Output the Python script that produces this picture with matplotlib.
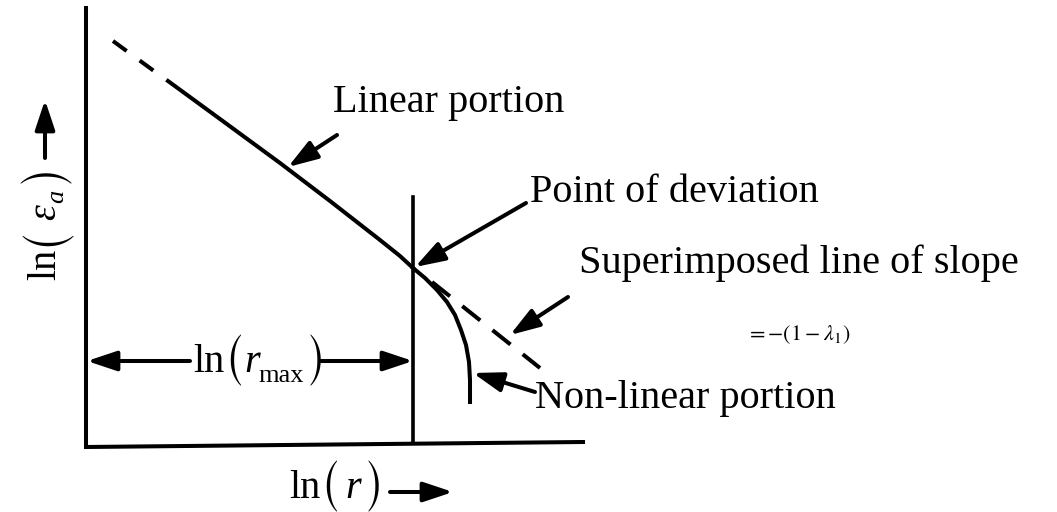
import numpy as np
import matplotlib
matplotlib.use('Agg')
import matplotlib.pyplot as plt

plt.rcParams['font.family'] = ['Liberation Serif', 'DejaVu Serif']
plt.rcParams['mathtext.fontset'] = 'stix'

# schematic coordinates (pixel units, y grows downward)
frame_x = [86, 86, 583]
frame_y = [8, 447, 442]

rmax_x = 413
rmax_line_y = [197, 442]

# measured curve: dashed extrapolation at the top, then the linear part
top_dash_x = [113, 154]
top_dash_y = [41, 71]
linear_x = [168, 220, 280, 330, 380, 400, 413]
linear_y = [81, 119, 163, 201, 240, 256, 268]

# bending part after the point of deviation
nonlinear_x = [413, 425, 437, 447, 455, 461, 466, 469, 470, 470]
nonlinear_y = [268, 278, 290, 302, 315, 330, 345, 362, 380, 402]

# superimposed straight line of slope -(1 - lambda_1)
slope_x = [432, 540]
slope_y = [282, 368]

# (label, text x, text baseline y, arrow tail, arrow tip)
callouts = [
    ('Linear portion', 333, 112, (337, 135), (288, 167)),
    ('Point of deviation', 530, 202, (526, 203), (415, 267)),
    ('Superimposed line of slope', 579, 273, (568, 297), (510, 335)),
    ('Non-linear portion', 535, 408, (535, 392), (473, 373)),
]

fig = plt.figure(figsize=(10.57, 5.12), dpi=100)
ax = fig.add_axes([0, 0, 1, 1])
ax.set_xlim(0, 1057)
ax.set_ylim(512, 0)
ax.axis('off')
renderer = fig.canvas.get_renderer()

fs = 29      # body text
big = 30     # tall thin brackets (STIX size-one glyphs)
small = 19   # subscripts
pdrop = 7    # brackets sit a little below the text baseline


def ln_label(x, y, pieces, rotation=0):
    """Write ln(...) piece by piece so the brackets can be taller than the text.
    pieces: (text, fontsize, kind, gap before, baseline drop)"""
    pos = 0.0
    for text, size, kind, gap, drop in pieces:
        pos += gap
        if rotation == 90:
            px, py = x + drop, y - pos
        else:
            px, py = x + pos, y + drop
        kw = dict(fontsize=size, rotation=rotation, rotation_mode='anchor',
                  ha='left', va='baseline')
        if kind == 'paren':
            kw['family'] = 'STIXSizeOneSym'
        elif kind == 'italic':
            kw['style'] = 'italic'
        t = ax.text(px, py, text, **kw)
        bb = t.get_window_extent(renderer)
        pos += bb.height if rotation == 90 else bb.width


lw = 2.9
ax.plot(frame_x, frame_y, color='black', lw=lw, solid_joinstyle='miter')
ax.plot([rmax_x, rmax_x], rmax_line_y, color='black', lw=lw * 0.9)

ax.plot(top_dash_x, top_dash_y, color='black', lw=lw, linestyle=(0, (4.2, 4.0)))
ax.plot(linear_x, linear_y, color='black', lw=lw)
ax.plot(nonlinear_x, nonlinear_y, color='black', lw=lw)
ax.plot(slope_x, slope_y, color='black', lw=lw, linestyle=(0, (5.7, 3.9)))

arrow = dict(arrowstyle='-|>,head_length=0.9,head_width=0.3', mutation_scale=20,
             lw=lw, color='black', shrinkA=0, shrinkB=0)

for label, tx, ty, tail, tip in callouts:
    ax.text(tx, ty, label, fontsize=fs, ha='left', va='baseline')
    ax.annotate('', xy=tip, xytext=tail, arrowprops=arrow)

ax.text(746, 335, r'$=-(1-\lambda_1)$', fontsize=16, ha='left', va='center')

# ln(r_max) span between the vertical axis and the deviation line
ax.annotate('', xy=(87, 361), xytext=(190, 361), arrowprops=arrow)
ax.annotate('', xy=(rmax_x, 361), xytext=(321, 361), arrowprops=arrow)
ln_label(193, 372, [('ln', fs, 'roman', 0, 0), ('(', big, 'paren', 0, pdrop),
                    ('r', fs, 'italic', 1, 0), ('max', small, 'roman', -2, 10),
                    (')', big, 'paren', 2, pdrop)])

# axis titles with direction arrows
ln_label(289, 498, [('ln', fs, 'roman', 0, 0), ('(', big, 'paren', 0, pdrop),
                    ('r', fs, 'italic', 6, 0), (')', big, 'paren', 3, pdrop)])
ax.annotate('', xy=(453, 492), xytext=(390, 492), arrowprops=arrow)

ln_label(55, 280, [('ln', fs, 'roman', 0, 0), ('(', big, 'paren', 3, pdrop),
                   ('\u03b5', fs, 'italic', 6, 0), ('a', small, 'italic', 1, 8),
                   (')', big, 'paren', 7, pdrop)], rotation=90)
ax.annotate('', xy=(45, 100), xytext=(45, 158), arrowprops=arrow)

plt.savefig('out.png', dpi=100)
